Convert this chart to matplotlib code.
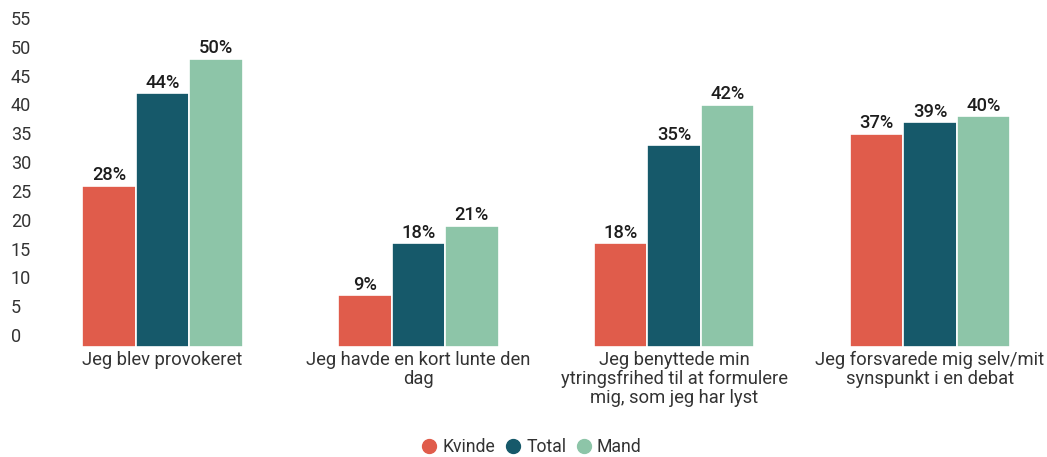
import matplotlib
matplotlib.use("Agg")
import matplotlib.pyplot as plt
import matplotlib.transforms as mtrans
from matplotlib.lines import Line2D
import numpy as np

plt.rcParams['font.family'] = ['Roboto', 'DejaVu Sans']

categories = ["Jeg blev provokeret",
              "Jeg havde en kort lunte den\ndag",
              "Jeg benyttede min\nytringsfrihed til at formulere\nmig, som jeg har lyst",
              "Jeg forsvarede mig selv/mit\nsynspunkt i en debat"]
series_names = ["Kvinde", "Total", "Mand"]
kvinde = [28, 9, 18, 37]
total = [44, 18, 35, 39]
mand = [50, 21, 42, 40]
yticks = [0, 5, 10, 15, 20, 25, 30, 35, 40, 45, 50, 55]
colors = ["#e05c4b", "#16596a", "#8dc5a8"]

W, H = 1047, 457
fig = plt.figure(figsize=(W / 100, H / 100), dpi=100)
ax = fig.add_axes([34.6 / W, 110 / H, 1010.5 / W, 317 / H])
ax.set_xlim(-0.5, 3.45)
ax.set_ylim(0, 55)
for s in ax.spines.values():
    s.set_visible(False)
ax.set_xticks([])
ax.set_yticks([])

x = np.arange(len(categories))
step = 0.209
width = 0.209
for i, (vals, c) in enumerate(zip([kvinde, total, mand], colors)):
    pos = x + (i - 1) * step
    ax.bar(pos, vals, width=width, color=c, edgecolor="white", linewidth=1.2, zorder=2)
    for p, v in zip(pos, vals):
        ax.annotate(f"{v}%", (p, v), xytext=(0, 4), textcoords="offset points",
                    ha="center", va="baseline", fontsize=13.2, fontweight="medium",
                    color="#1d1d1d")

# y tick labels (above their value line, left aligned)
tr = mtrans.blended_transform_factory(fig.transFigure, ax.transData)
tr = mtrans.offset_copy(tr, fig=fig, x=0, y=5, units="dots")
for t in yticks:
    ax.text(11 / W, t, str(t), transform=tr, ha="left", va="baseline",
            fontsize=13, color="#333333", clip_on=False)

# category labels
for xi, lab in zip(x, categories):
    ax.annotate(lab, (xi, 0), xytext=(0, -3), textcoords="offset points",
                ha="center", va="top", fontsize=13.2, color="#333333",
                linespacing=1.05, annotation_clip=False)

handles = [Line2D([0], [0], marker="o", linestyle="", markersize=10,
                  markerfacecolor=c, markeredgecolor=c) for c in colors]
fig.legend(handles, series_names, loc="center", bbox_to_anchor=(531 / W, 1 - 447 / H),
           ncol=3, frameon=False, fontsize=12.7, handletextpad=0.25,
           columnspacing=0.5, labelcolor="#333333", handlelength=1.0)

fig.savefig("out.png", dpi=100)
